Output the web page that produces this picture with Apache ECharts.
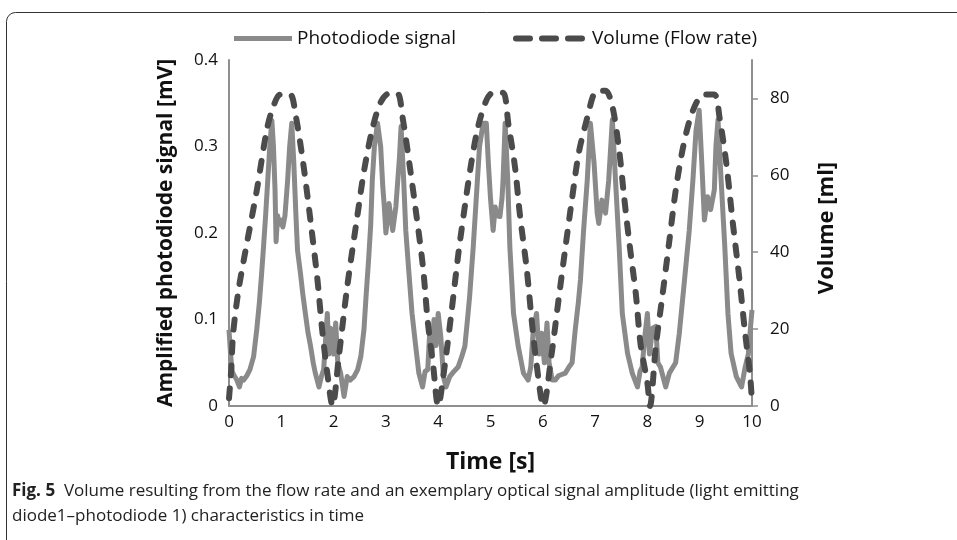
<!DOCTYPE html>
<html>
<head>
<meta charset="utf-8">
<script src="https://cdn.jsdelivr.net/npm/echarts@6/dist/echarts.min.js"></script>
<style>
html,body{margin:0;padding:0;background:#fff;}
#chart{width:957px;height:540px;}
</style>
</head>
<body>
<div id="chart"></div>
<script>
// ---- data ----
var xTicks = [0,1,2,3,4,5,6,7,8,9,10];
var leftTicks = [0, 0.1, 0.2, 0.3, 0.4];
var rightTicks = [0, 20, 40, 60, 80];

// Photodiode signal [mV] : [time s, value]
var photodiode = [
 [0,0.088],[0.03,0.06],[0.06,0.04],[0.1,0.035],[0.15,0.03],[0.2,0.022],[0.24,0.032],[0.28,0.03],[0.34,0.035],[0.4,0.042],
 [0.47,0.057],[0.53,0.088],[0.58,0.119],[0.62,0.15],[0.66,0.184],[0.7,0.22],[0.74,0.26],[0.78,0.30],[0.82,0.33],[0.85,0.30],
 [0.88,0.25],[0.9,0.19],[0.93,0.22],[0.96,0.21],[1.0,0.215],[1.03,0.207],[1.07,0.22],[1.12,0.26],[1.16,0.30],[1.2,0.327],
 [1.24,0.28],[1.28,0.22],[1.31,0.18],[1.365,0.154],[1.41,0.13],[1.46,0.107],[1.51,0.085],[1.56,0.069],[1.61,0.05],[1.65,0.038],
 [1.72,0.022],[1.77,0.035],[1.81,0.042],[1.85,0.08],[1.88,0.107],[1.91,0.06],[1.94,0.09],[1.975,0.088],[2.0,0.06],[2.04,0.096],
 [2.08,0.05],[2.135,0.038],[2.2,0.011],[2.26,0.034],[2.32,0.03],[2.39,0.034],[2.46,0.042],[2.52,0.057],[2.58,0.088],[2.62,0.126],
 [2.67,0.17],[2.71,0.21],[2.74,0.261],[2.78,0.30],[2.84,0.327],[2.9,0.30],[2.94,0.254],[2.97,0.23],[3.0,0.20],[3.06,0.234],
 [3.13,0.203],[3.19,0.23],[3.26,0.288],[3.29,0.323],[3.34,0.261],[3.38,0.203],[3.44,0.154],[3.5,0.107],[3.57,0.069],[3.63,0.038],
 [3.7,0.022],[3.75,0.04],[3.8,0.042],[3.84,0.088],[3.88,0.06],[3.92,0.1],[3.96,0.07],[4.0,0.107],[4.05,0.08],[4.1,0.034],
 [4.15,0.022],[4.22,0.034],[4.3,0.04],[4.38,0.045],[4.45,0.057],[4.51,0.069],[4.56,0.1],[4.6,0.126],[4.67,0.184],[4.73,0.242],
 [4.79,0.30],[4.86,0.327],[4.92,0.327],[4.96,0.28],[5.0,0.24],[5.05,0.203],[5.09,0.23],[5.12,0.22],[5.18,0.219],[5.22,0.24],
 [5.24,0.261],[5.28,0.327],[5.33,0.261],[5.37,0.184],[5.44,0.107],[5.53,0.069],[5.63,0.038],[5.72,0.030],[5.77,0.045],[5.82,0.09],
 [5.88,0.107],[5.93,0.06],[5.98,0.084],[6.03,0.05],[6.08,0.096],[6.12,0.05],[6.18,0.03],[6.24,0.03],[6.3,0.035],[6.43,0.038],
 [6.5,0.045],[6.56,0.05],[6.62,0.088],[6.68,0.12],[6.72,0.146],[6.78,0.203],[6.85,0.261],[6.91,0.327],[6.98,0.281],[7.04,0.223],
 [7.07,0.211],[7.13,0.238],[7.2,0.223],[7.26,0.261],[7.33,0.331],[7.39,0.261],[7.46,0.184],[7.52,0.107],[7.62,0.061],[7.71,0.038],
 [7.81,0.022],[7.86,0.04],[7.9,0.045],[7.95,0.08],[8.0,0.107],[8.04,0.06],[8.1,0.09],[8.16,0.092],[8.2,0.05],[8.25,0.045],
 [8.35,0.022],[8.42,0.038],[8.54,0.05],[8.61,0.084],[8.71,0.146],[8.8,0.203],[8.87,0.261],[8.93,0.319],[8.99,0.342],[9.04,0.281],
 [9.09,0.215],[9.15,0.242],[9.21,0.227],[9.28,0.25],[9.31,0.30],[9.35,0.331],[9.41,0.261],[9.48,0.184],[9.54,0.107],[9.6,0.061],
 [9.7,0.034],[9.8,0.022],[9.87,0.045],[9.93,0.06],[9.97,0.09],[10.0,0.111]
];

// Volume (Flow rate) [ml] : [time s, value]
var volume = [
 [0,2],[0.04,9],[0.08,19],[0.18,30],[0.31,40],[0.53,56],[0.725,72],[0.85,78],[0.98,81],[1.17,81],
 [1.27,76],[1.42,63],[1.56,48],[1.69,33],[1.78,20],[1.88,8.5],[1.98,0],
 [2.10,12.8],[2.26,31],[2.46,50],[2.58,61],[2.74,72],[2.90,79],[3.06,81.3],[3.22,81.3],[3.32,75],
 [3.45,63],[3.58,50],[3.71,36],[3.80,22],[3.90,11],[4.0,0],
 [4.12,10],[4.25,24],[4.38,39],[4.51,52],[4.63,63],[4.76,72.5],[4.92,79.5],[5.05,81.5],[5.24,81.5],
 [5.34,73.5],[5.47,62],[5.56,50],[5.69,36],[5.79,22],[5.88,11],[6.01,0],
 [6.17,13.7],[6.30,27.5],[6.43,41],[6.56,54],[6.69,66],[6.85,75],[6.97,81],[7.05,82],[7.2,82],[7.33,78],
 [7.46,66.5],[7.55,55],[7.65,43],[7.78,29],[7.87,16],[8.0,6],[8.05,0],
 [8.16,15.4],[8.29,29],[8.42,43],[8.54,56],[8.67,66.5],[8.80,74],[8.93,78.7],[9.06,81],[9.28,81],[9.38,75],
 [9.51,63],[9.63,48],[9.76,33],[9.86,20],[9.96,8.5],[10.0,1]
];

var seriesNames = ['Photodiode signal', 'Volume (Flow rate)'];
var axisNames = ['Time [s]', 'Amplified photodiode signal [mV]', 'Volume [ml]'];
var captionBold = 'Fig. 5';
var captionLine1 = 'Volume resulting from the flow rate and an exemplary optical signal amplitude (light emitting';
var captionLine2 = 'diode1\u2013photodiode 1) characteristics in time';

var FONT = '"Open Sans", "Noto Sans", sans-serif';
var AXIS_COLOR = '#8f8f8f';
var LIGHT = '#8a8a8a';
var DARK = '#4b4b4b';

var DASH_ICON = 'path://M3,0 L17,0 A3,3 0 0 1 17,6 L3,6 A3,3 0 0 1 3,0 Z ' +
  'M29,0 L43,0 A3,3 0 0 1 43,6 L29,6 A3,3 0 0 1 29,0 Z ' +
  'M55,0 L69,0 A3,3 0 0 1 69,6 L55,6 A3,3 0 0 1 55,0 Z';

var chart = echarts.init(document.getElementById('chart'), null, {renderer: 'canvas'});
chart.setOption({
  backgroundColor: '#fff',
  animation: false,
  textStyle: {fontFamily: FONT},
  grid: {left: 229, right: 205, top: 60, bottom: 134, containLabel: false},
  legend: [
    {data: [seriesNames[0]], left: 229, top: 24, itemWidth: 58, itemHeight: 5, itemGap: 0,
     icon: 'path://M0,0 L58,0 L58,5 L0,5 Z',
     itemStyle: {color: LIGHT},
     textStyle: {fontSize: 19, color: '#111', fontFamily: FONT, padding: [0,0,0,0]}},
    {data: [seriesNames[1]], left: 508, top: 24, itemWidth: 72, itemHeight: 6, itemGap: 0,
     icon: DASH_ICON,
     itemStyle: {color: DARK},
     textStyle: {fontSize: 19, color: '#111', fontFamily: FONT, padding: [0,0,0,2]}}
  ],
  xAxis: {
    type: 'value', min: 0, max: 10, interval: 1,
    name: axisNames[0], nameLocation: 'middle', nameGap: 45,
    nameTextStyle: {fontSize: 23, fontWeight: 'bold', color: '#111', fontFamily: FONT},
    axisLine: {lineStyle: {color: AXIS_COLOR, width: 2}},
    axisTick: {show: false},
    splitLine: {show: false},
    axisLabel: {fontSize: 17, color: '#111', margin: 8, fontFamily: FONT,
      customValues: xTicks}
  },
  yAxis: [
    {
      type: 'value', min: 0, max: 0.4, interval: 0.1,
      name: axisNames[1], nameLocation: 'middle', nameGap: 52,
      nameTextStyle: {fontSize: 21, fontWeight: 'bold', color: '#111', fontFamily: FONT},
      axisLine: {show: true, lineStyle: {color: AXIS_COLOR, width: 2}},
      axisTick: {show: false},
      splitLine: {show: false},
      axisLabel: {fontSize: 17, color: '#111', margin: 11, fontFamily: FONT,
        customValues: leftTicks,
        formatter: function (v) { return v === 0 ? '0' : v.toFixed(1); }}
    },
    {
      type: 'value', min: 0, max: 90, position: 'right',
      name: axisNames[2], nameLocation: 'middle', nameGap: 64, nameRotate: 90,
      nameTextStyle: {fontSize: 22, fontWeight: 'bold', color: '#111', fontFamily: FONT, padding: [0, 0, 0, 10]},
      axisLine: {show: true, lineStyle: {color: AXIS_COLOR, width: 2}},
      axisTick: {show: true, length: 6, lineStyle: {color: AXIS_COLOR, width: 1.5}, customValues: rightTicks},
      splitLine: {show: false},
      axisLabel: {fontSize: 17, color: '#111', margin: 18, fontFamily: FONT, customValues: rightTicks}
    }
  ],
  series: [
    {
      name: seriesNames[0], type: 'line', data: photodiode, yAxisIndex: 0,
      showSymbol: false, symbol: 'none',
      lineStyle: {color: LIGHT, width: 5, join: 'round'},
      itemStyle: {color: LIGHT}, z: 2
    },
    {
      name: seriesNames[1], type: 'line', data: volume, yAxisIndex: 1,
      showSymbol: false, symbol: 'none', smooth: 0.3,
      lineStyle: {color: DARK, width: 6, type: [10, 13], cap: 'round', join: 'round'},
      itemStyle: {color: DARK}, z: 3
    }
  ],
  graphic: [
    {type: 'rect', shape: {x: 6.5, y: 12.5, width: 1000, height: 600, r: 9},
     style: {fill: 'none', stroke: '#333', lineWidth: 1}, z: -1, silent: true},
    {type: 'text', left: 12, top: 483, silent: true,
     style: {text: '{b|' + captionBold + '}  ' + captionLine1, font: '17px ' + FONT, fill: '#222',
       rich: {b: {fontWeight: 'bold', fontSize: 17, fontFamily: FONT, fill: '#222'}}}},
    {type: 'text', left: 12, top: 508, silent: true,
     style: {text: captionLine2, font: '17px ' + FONT, fill: '#222'}}
  ]
});
</script>
</body>
</html>
